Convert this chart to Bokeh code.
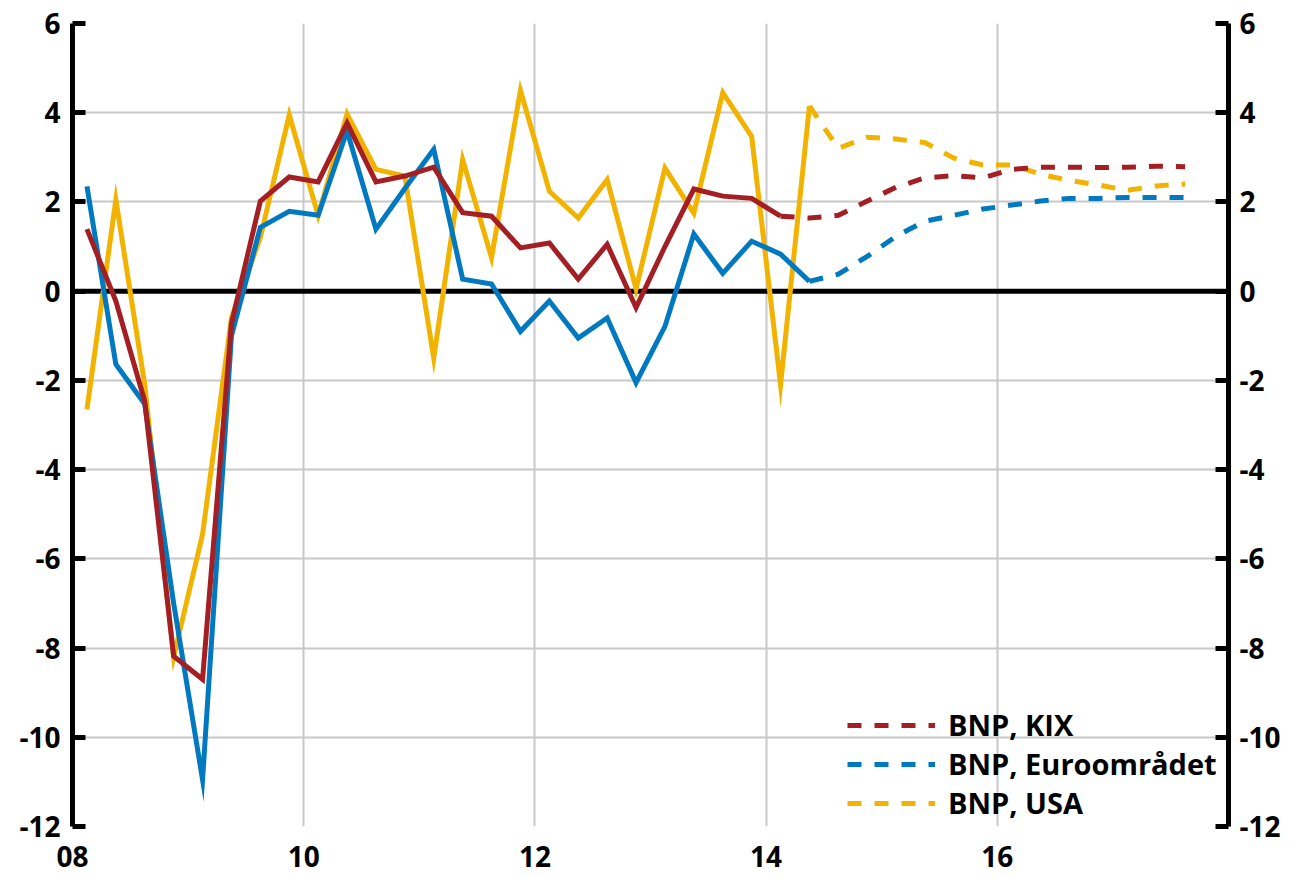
from bokeh.plotting import figure
from bokeh.models import (Range1d, LinearAxis, FixedTicker, Span, Legend, LegendItem)
from bokeh.embed import file_html
from bokeh.resources import INLINE

# ---- data -------------------------------------------------------------
quarters = [f"{y}Q{q}" for y in range(2008, 2018) for q in range(1, 5)][:39]

kix = [1.39, -0.22, -2.47, -8.18, -8.70, -0.72, 2.02, 2.56, 2.45, 3.77,
       2.45, 2.58, 2.78, 1.76, 1.68, 0.97, 1.08, 0.27, 1.05, -0.37,
       1.00, 2.29, 2.13, 2.08, 1.68, 1.64, 1.70, 2.02, 2.33, 2.54,
       2.59, 2.54, 2.73, 2.78, 2.78, 2.77, 2.78, 2.80, 2.79]
euro = [2.35, -1.64, -2.53, -7.00, -10.95, -1.00, 1.43, 1.79, 1.70, 3.59,
        1.39, 2.30, 3.18, 0.27, 0.16, -0.90, -0.22, -1.05, -0.60, -2.05,
        -0.79, 1.28, 0.40, 1.12, 0.83, 0.22, 0.38, 0.78, 1.23, 1.57,
        1.70, 1.84, 1.93, 2.02, 2.08, 2.08, 2.10, 2.10, 2.10]
usa = [-2.65, 2.05, -2.10, -8.20, -5.45, -0.60, 1.20, 3.95, 1.70, 3.97,
       2.73, 2.58, -1.50, 2.95, 0.75, 4.50, 2.24, 1.64, 2.50, 0.05,
       2.76, 1.75, 4.45, 3.47, -2.10, 4.15, 3.20, 3.45, 3.41, 3.33,
       2.98, 2.83, 2.83, 2.62, 2.48, 2.38, 2.26, 2.36, 2.40]

# index of the last outcome quarter (forecast starts there)
last_actual = {"kix": 24, "euro": 25, "usa": 25}

labels = ["BNP, KIX", "BNP, Euroområdet", "BNP, USA"]
colors = ["#A31F24", "#0079C1", "#F2B300"]

x_ticks = [2008, 2010, 2012, 2014, 2016]
x_tick_labels = ["08", "10", "12", "14", "16"]
y_ticks = [6, 4, 2, 0, -2, -4, -6, -8, -10, -12]
y_tick_labels = ["6", "4", "2", "0", "-2", "-4", "-6", "-8", "-10", "-12"]

# quarter midpoint positions
def qpos(qs):
    return [int(s[:4]) + (int(s[-1]) - 0.5) / 4 for s in qs]

xs = qpos(quarters)

FONT = "Open Sans"
FS = "28px"

p = figure(frame_width=1156, frame_height=803,
           x_range=Range1d(2008, 2018), y_range=Range1d(-12, 6),
           output_backend="svg", toolbar_location=None,
           min_border_left=72, min_border_right=62,
           min_border_top=23, min_border_bottom=50)
p.outline_line_color = None
p.background_fill_color = "white"

# grid
p.xgrid.ticker = FixedTicker(ticks=x_ticks)
p.ygrid.ticker = FixedTicker(ticks=y_ticks)
for g in (p.xgrid, p.ygrid):
    g.grid_line_color = "#c8c8c8"
    g.grid_line_width = 2

# x axis (labels only)
xa = p.xaxis[0]
xa.ticker = FixedTicker(ticks=x_ticks)
xa.major_label_overrides = {t: l for t, l in zip(x_ticks, x_tick_labels)}
xa.axis_line_color = None
xa.major_tick_line_color = None
xa.minor_tick_line_color = None
xa.major_label_standoff = 13

# left and right y axes
ya = p.yaxis[0]
right = LinearAxis()
p.add_layout(right, "right")
for ax in (ya, right):
    ax.ticker = FixedTicker(ticks=y_ticks)
    ax.major_label_overrides = {t: l for t, l in zip(y_ticks, y_tick_labels)}
    ax.axis_line_width = 5
    ax.axis_line_color = "black"
    ax.major_tick_in = 13
    ax.major_tick_out = 0
    ax.major_tick_line_width = 5
    ax.major_tick_line_color = "black"
    ax.minor_tick_line_color = None
    ax.major_label_standoff = 12
for ax in (xa, ya, right):
    ax.major_label_text_font = FONT
    ax.major_label_text_font_style = "bold"
    ax.major_label_text_font_size = FS
    ax.major_label_text_color = "black"
right.major_label_standoff = 11

# zero line
p.add_layout(Span(location=0, dimension="width", line_color="black",
                  line_width=5, level="underlay"))

series = [("kix", kix), ("euro", euro), ("usa", usa)]
renderers = {}
# draw order: usa bottom, euro, kix top
for key, vals in [series[2], series[1], series[0]]:
    i = [s[0] for s in series].index(key)
    k = last_actual[key]
    col = colors[i]
    p.line(xs[:k + 1], vals[:k + 1], line_color=col, line_width=5,
           line_join="miter")
    r = p.line(xs[k:], vals[k:], line_color=col, line_width=5,
               line_dash="14 13", line_join="miter")
    renderers[key] = r

legend = Legend(items=[LegendItem(label=labels[0], renderers=[renderers["kix"]]),
                       LegendItem(label=labels[1], renderers=[renderers["euro"]]),
                       LegendItem(label=labels[2], renderers=[renderers["usa"]])],
                location=(775, 4))
legend.border_line_color = None
legend.background_fill_alpha = 0
legend.padding = 0
legend.margin = 0
legend.spacing = 0
legend.glyph_width = 88
legend.glyph_height = 30
legend.label_height = 30
legend.label_standoff = 13
legend.label_text_font = FONT
legend.label_text_font_style = "bold"
legend.label_text_font_size = "29px"
legend.label_text_color = "black"
p.add_layout(legend, "center")

open("out.html", "w").write(file_html(p, INLINE))
